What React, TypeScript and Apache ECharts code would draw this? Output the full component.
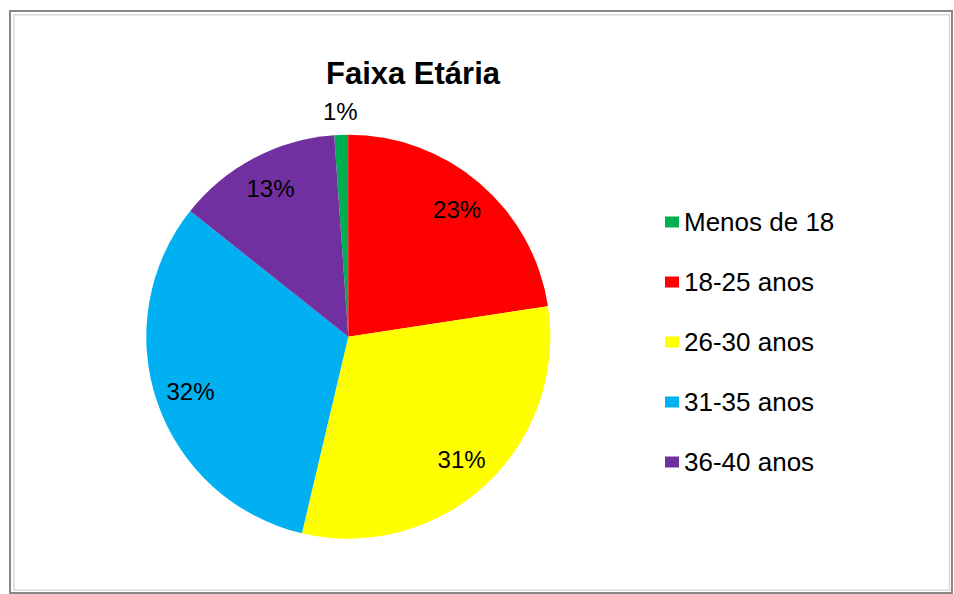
import React, { useEffect, useRef } from "react";
import * as echarts from "echarts";

const categories = ["Menos de 18", "18-25 anos", "26-30 anos", "31-35 anos", "36-40 anos"];
const values = [1.1, 22.6, 31.1, 32.0, 13.2];
const colors = ["#00B050", "#FF0000", "#FFFF00", "#00B0F0", "#7030A0"];
const titleText = "Faixa Etária";

const FONT = "'Liberation Sans', Arial, Helvetica, sans-serif";

export default function App() {
  const ref = useRef<HTMLDivElement>(null);
  useEffect(() => {
    if (!ref.current) return;
    const chart = echarts.init(ref.current, undefined, { renderer: "svg" });
    const data = categories.map((name, i) => ({ name, value: values[i], itemStyle: { color: colors[i] } }));
    const cx = 348.3;
    const cy = 336.7;
    const R = 202;
    const startAngle = 94;
    const labelBase = {
      color: "#000",
      fontSize: 24,
      fontFamily: FONT,
    };
    chart.setOption({
      animation: false,
      backgroundColor: "#fff",
      title: {
        text: titleText,
        left: 413,
        top: 58,
        padding: 0,
        textAlign: "center",
        textStyle: { fontSize: 31, fontWeight: "bold", color: "#000", fontFamily: FONT },
      },
      legend: {
        orient: "vertical",
        left: 665,
        top: 207,
        padding: 0,
        itemWidth: 14,
        itemHeight: 11,
        itemGap: 30,
        icon: "rect",
        data: categories,
        textStyle: { fontSize: 26, color: "#000", fontFamily: FONT, lineHeight: 30 },
      },
      graphic: [
        { type: "rect", silent: true, shape: { x: 10, y: 11, width: 942, height: 582 }, style: { fill: "none", stroke: "#878787", lineWidth: 2 } },
        { type: "rect", silent: true, shape: { x: 14, y: 14.8, width: 935.5, height: 575.5 }, style: { fill: "none", stroke: "#dadada", lineWidth: 1.6 } },
      ],
      series: [
        {
          type: "pie",
          center: [cx, cy],
          radius: [0, R],
          startAngle,
          clockwise: true,
          percentPrecision: 0,
          silent: true,
          label: { show: false },
          labelLine: { show: false },
          itemStyle: { borderWidth: 0 },
          data,
        },
        {
          type: "pie",
          center: [cx, cy],
          radius: [144, 184],
          startAngle,
          clockwise: true,
          percentPrecision: 0,
          silent: true,
          legendHoverLink: false,
          itemStyle: { color: "rgba(0,0,0,0)", borderWidth: 0 },
          labelLine: { show: false },
          data: categories.map((name, i) => ({
            name,
            value: values[i],
            label: { show: i !== 0 },
          })),
          label: { ...labelBase, position: "inside", formatter: "{d}%" },
        },
        {
          type: "pie",
          center: [cx, cy],
          radius: [212, 232],
          startAngle,
          clockwise: true,
          percentPrecision: 0,
          silent: true,
          legendHoverLink: false,
          itemStyle: { color: "rgba(0,0,0,0)", borderWidth: 0 },
          labelLine: { show: false },
          data: categories.map((name, i) => ({
            name,
            value: values[i],
            label: { show: i === 0 },
          })),
          label: { ...labelBase, position: "inside", formatter: "{d}%" },
        },
      ],
    });
    return () => chart.dispose();
  }, []);
  return (
    <div
      ref={ref}
      style={{ position: "fixed", left: 0, top: 0, width: 954, height: 594, background: "#fff" }}
    />
  );
}
